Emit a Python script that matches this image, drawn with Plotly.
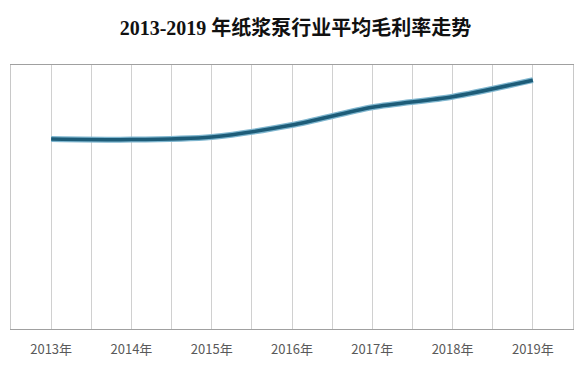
import plotly.graph_objects as go

years = ["2013年", "2014年", "2015年", "2016年", "2017年", "2018年", "2019年"]
margin = [28.8, 28.7, 29.1, 30.9, 33.6, 35.2, 37.7]
title_text = "2013-2019 年纸浆泵行业平均毛利率走势"

x_idx = list(range(len(years)))

fig = go.Figure()
fig.add_trace(go.Scatter(
    x=x_idx, y=margin, mode="lines",
    line=dict(color="#7fb6cf", width=6, shape="spline", smoothing=0.8),
    hoverinfo="skip", showlegend=False))
fig.add_trace(go.Scatter(
    x=x_idx, y=margin, mode="lines",
    line=dict(color="#1d5c78", width=3.5, shape="spline", smoothing=0.8),
    showlegend=False))

# page body has an 8px default margin, so the figure is sized/offset to compensate
fig.update_layout(
    width=575, height=361,
    margin=dict(l=3, r=10, t=57, b=40),
    paper_bgcolor="white", plot_bgcolor="white",
    title=dict(text="<b>" + title_text + "</b>", x=0.5, xanchor="center",
               y=0.945, yanchor="middle",
               font=dict(family="Liberation Serif, Noto Sans CJK SC", size=20, color="#111111")),
    xaxis=dict(range=[-0.5, 6.5], tickmode="array", tickvals=x_idx, ticktext=years,
               showgrid=True, gridcolor="#d0d0d0", gridwidth=1,
               minor=dict(tickmode="linear", tick0=0.5, dtick=1, showgrid=True,
                          gridcolor="#d0d0d0", gridwidth=1),
               showline=True, linecolor="#a0a0a0", linewidth=1, mirror=True,
               ticks="", zeroline=False, ticklabelstandoff=8,
               tickfont=dict(family="Noto Sans CJK SC, DejaVu Sans", size=13, color="#595959")),
    yaxis=dict(range=[0, 40], showgrid=False, showticklabels=False, zeroline=False,
               showline=True, linecolor="#c8c8c8", linewidth=1, mirror=True, ticks=""),
)

fig.write_html("out.html")
